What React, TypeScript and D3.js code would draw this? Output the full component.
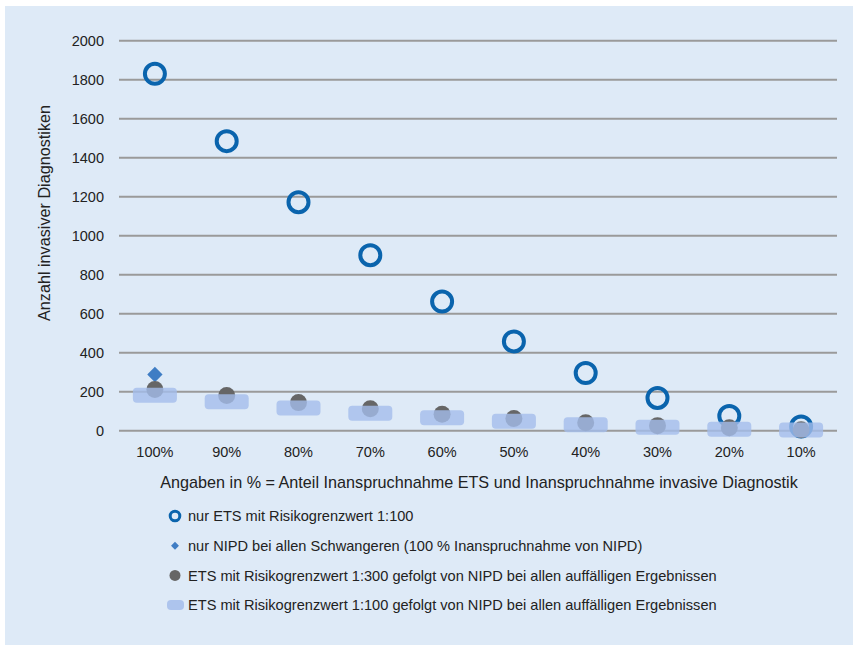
import React from 'react';
import * as d3 from 'd3';

const categories = ['100%', '90%', '80%', '70%', '60%', '50%', '40%', '30%', '20%', '10%'];
const nurEts100 = [1830, 1485, 1172, 900, 662, 458, 296, 168, 76, 22];
const nurNipd = [{ cat: '100%', value: 288 }];
const ets300Nipd = [211, 180, 144, 113, 84, 62, 41, 26, 15, 5];
const ets100Nipd = [182, 149, 116, 90, 67, 49, 31, 18, 8, 3];
const yTicks = [0, 200, 400, 600, 800, 1000, 1200, 1400, 1600, 1800, 2000];

const legendItems = [
  'nur ETS mit Risikogrenzwert 1:100',
  'nur NIPD bei allen Schwangeren (100 % Inanspruchnahme von NIPD)',
  'ETS mit Risikogrenzwert 1:300 gefolgt von NIPD bei allen auffälligen Ergebnissen',
  'ETS mit Risikogrenzwert 1:100 gefolgt von NIPD bei allen auffälligen Ergebnissen',
];

const W = 853;
const H = 645;
const font = '"Liberation Sans", Arial, sans-serif';

export default function App() {
  const x = d3.scaleBand<string>().domain(categories).range([119, 837]).padding(0);
  const y = d3.scaleLinear().domain([0, 2000]).range([430.7, 40.7]);
  const cx = (c: string) => (x(c) || 0) + x.bandwidth() / 2;

  const diamond = d3.symbol().type(d3.symbolDiamond2).size(150)();

  return (
    <div style={{ position: 'fixed', left: 0, top: 0 }}>
      <svg width={W} height={H} style={{ display: 'block', background: '#fff' }}>
        <rect x={5} y={6} width={W - 5} height={H - 6} fill="#deeaf7" />

        {/* Gitterlinien */}
        {yTicks.map(t => (
          <g key={t}>
            <line x1={119} x2={837} y1={y(t)} y2={y(t)} stroke="#9a9a9a" strokeWidth={2} />
            <text x={104} y={y(t)} dy="0.36em" textAnchor="end" fontFamily={font} fontSize={14.5} fill="#222">
              {t}
            </text>
          </g>
        ))}

        {/* X-Achse */}
        {categories.map(c => (
          <text key={c} x={cx(c)} y={457} textAnchor="middle" fontFamily={font} fontSize={14.5} fill="#222">
            {c}
          </text>
        ))}

        <text
          transform={`translate(50,213) rotate(-90)`}
          textAnchor="middle"
          fontFamily={font}
          fontSize={16.2}
          fill="#222"
        >
          Anzahl invasiver Diagnostiken
        </text>
        <text x={479} y={488} textAnchor="middle" fontFamily={font} fontSize={16.2} fill="#222">
          Angaben in % = Anteil Inanspruchnahme ETS und Inanspruchnahme invasive Diagnostik
        </text>

        {/* nur ETS 1:100 */}
        {nurEts100.map((v, i) => (
          <circle key={'e' + i} cx={cx(categories[i])} cy={y(v)} r={10} fill="none" stroke="#0a64ad" strokeWidth={4} />
        ))}

        {/* nur NIPD */}
        {nurNipd.map(d => (
          <path key={d.cat} d={diamond || ''} transform={`translate(${cx(d.cat)},${y(d.value)})`} fill="#3f7dc4" />
        ))}

        {/* ETS 1:300 + NIPD */}
        {ets300Nipd.map((v, i) => (
          <circle key={'g' + i} cx={cx(categories[i])} cy={y(v)} r={8.5} fill="#666666" />
        ))}

        {/* ETS 1:100 + NIPD */}
        {ets100Nipd.map((v, i) => (
          <rect
            key={'r' + i}
            x={cx(categories[i]) - 22}
            y={y(v) - 7.5}
            width={44}
            height={15}
            rx={4}
            fill="#a4bdeb"
            fillOpacity={0.8}
          />
        ))}

        {/* Legende */}
        {legendItems.map((label, i) => {
          const ly = 516 + i * 29.7;
          return (
            <g key={label}>
              {i === 0 && <circle cx={175} cy={ly} r={4.8} fill="none" stroke="#0a64ad" strokeWidth={3} />}
              {i === 1 && (
                <path
                  d={d3.symbol().type(d3.symbolDiamond2).size(40)() || ''}
                  transform={`translate(175,${ly})`}
                  fill="#3f7dc4"
                />
              )}
              {i === 2 && <circle cx={175} cy={ly} r={5.5} fill="#666666" />}
              {i === 3 && <rect x={167} y={ly - 5} width={17} height={10} rx={4} fill="#a4bdeb" fillOpacity={0.85} />}
              <text x={188} y={ly} dy="0.35em" fontFamily={font} fontSize={14.6} fill="#222">
                {label}
              </text>
            </g>
          );
        })}
      </svg>
    </div>
  );
}
